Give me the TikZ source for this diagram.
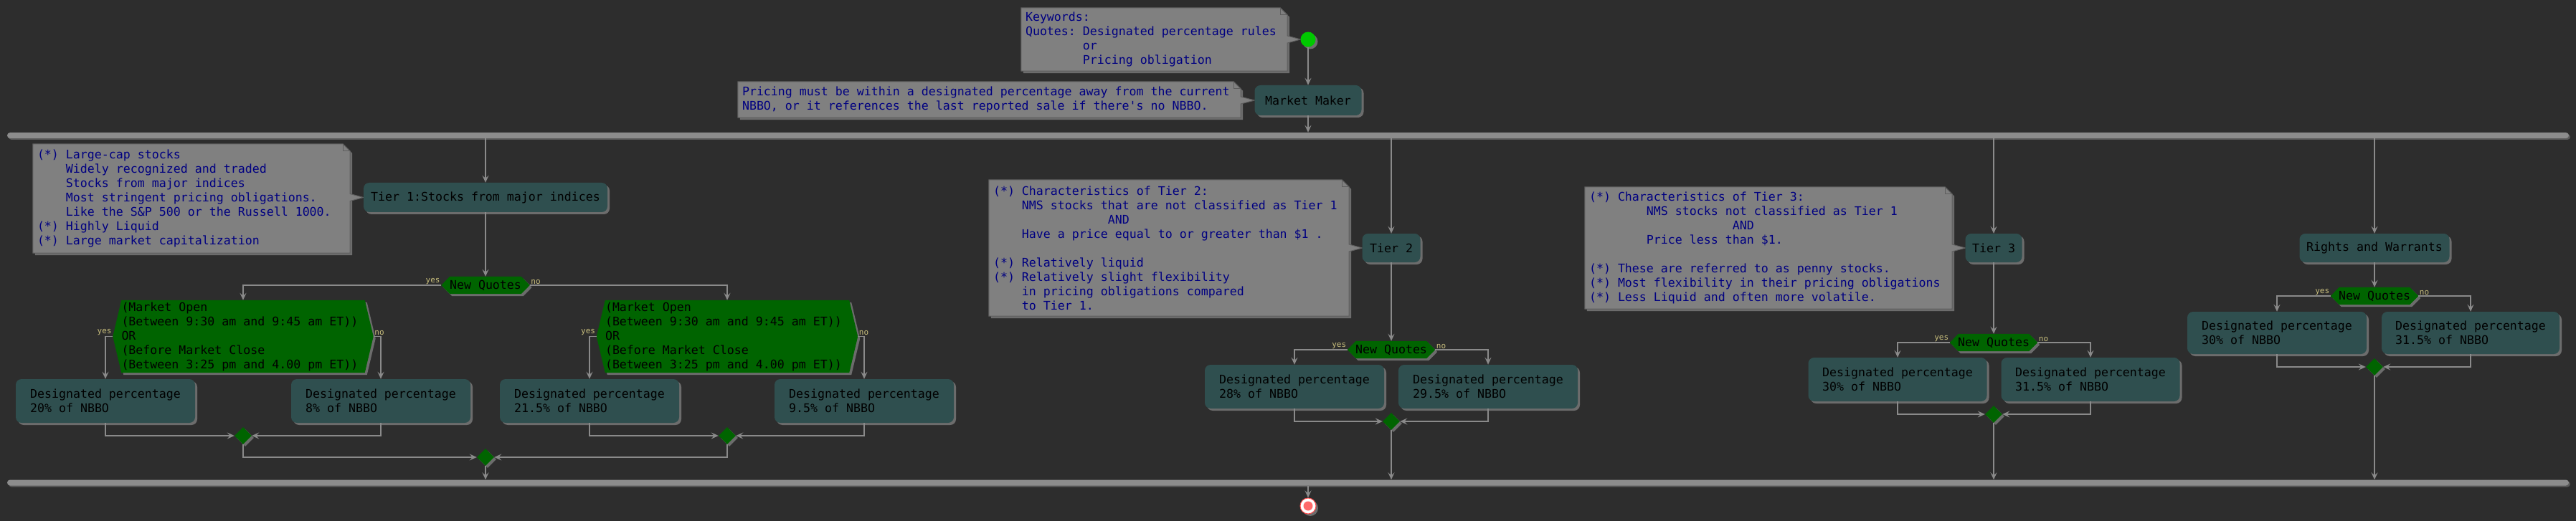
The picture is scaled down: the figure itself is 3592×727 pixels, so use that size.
\documentclass[tikz,border=0pt]{standalone}
\usepackage{fontspec}
\setmonofont{DejaVu Sans Mono}
\usetikzlibrary{arrows.meta,shapes.geometric,shadows,backgrounds,calc}
\setlength\parindent{0pt}
\definecolor{bgc}{HTML}{2D2D2D}
\definecolor{notefill}{HTML}{808080}
\definecolor{noteline}{HTML}{5E5E5E}
\definecolor{notetext}{HTML}{000080}
\definecolor{boxfill}{HTML}{2F4F4F}
\definecolor{hexfill}{HTML}{006400}
\definecolor{linec}{HTML}{8A8A8A}
\definecolor{barc}{HTML}{8C8C8C}
\definecolor{barsh}{HTML}{5A5A5A}
\definecolor{shc}{HTML}{A0A0A0}
\definecolor{lblc}{HTML}{C8BE7C}
\definecolor{startc}{HTML}{00C800}
\definecolor{endc}{HTML}{FF6A6A}
\definecolor{endline}{HTML}{FF4A4A}
\newcommand{\sk}[1]{\hspace*{#1\fontcharwd\font`0}}
\newcommand{\ms}{\spaceskip=0pt\relax\xspaceskip=0pt\relax\frenchspacing}
\newcommand{\hexdraw}[1]{%
  \begin{scope}[on background layer]
    \fill[shc,opacity=.55,transform canvas={xshift=3pt,yshift=-3pt}] (#1.west) -- ([xshift=12pt]#1.north west) -- ([xshift=-12pt]#1.north east) -- (#1.east) -- ([xshift=-12pt]#1.south east) -- ([xshift=12pt]#1.south west) -- cycle;
    \fill[hexfill] (#1.west) -- ([xshift=12pt]#1.north west) -- ([xshift=-12pt]#1.north east) -- (#1.east) -- ([xshift=-12pt]#1.south east) -- ([xshift=12pt]#1.south west) -- cycle;
  \end{scope}}
\newcommand{\notedraw}[2]{%
  \begin{scope}[on background layer]
    \coordinate (nA) at ([yshift=5pt]#2);
    \coordinate (nB) at ([yshift=-5pt]#2);
    \fill[shc,opacity=.55,transform canvas={xshift=3pt,yshift=-3pt}] (#1.north west) -- ([xshift=-10pt]#1.north east) -- ([yshift=-10pt]#1.north east) -- (#1.south east) -- (#1.south west) -- cycle;
    \filldraw[fill=notefill, draw=noteline, line width=1pt] (#1.north west) -- ([xshift=-10pt]#1.north east) -- ([yshift=-10pt]#1.north east) -- (#1.east |- nA) -- (#2) -- (#1.east |- nB) -- (#1.south east) -- (#1.south west) -- cycle;
    \draw[noteline, line width=1pt] ([xshift=-10pt]#1.north east) -- ([xshift=-10pt,yshift=-10pt]#1.north east) -- ([yshift=-10pt]#1.north east);
  \end{scope}}
\tikzset{
  base/.style={font=\ttfamily\fontsize{16.6}{20}\selectfont},
  shd/.style={drop shadow={shadow xshift=3pt, shadow yshift=-3pt, fill=shc, opacity=.55}},
  box/.style={base, shd, rounded corners=8pt, fill=boxfill, text=black, align=left, inner sep=0pt},
  notebox/.style={base, text=notetext, align=left, inner xsep=6pt, inner ysep=0pt},
  hexnode/.style={base, text=black, align=left, inner sep=0pt},
  dia/.style={diamond, shd, fill=hexfill, minimum width=24pt, minimum height=24pt, inner sep=0pt},
  conn/.style={draw=linec, line width=1.4pt},
  arr/.style={conn, -{Stealth[length=10pt,width=9pt,inset=4pt]}},
  lbl/.style={font=\ttfamily\fontsize{11}{12}\selectfont, text=lblc, inner sep=1.5pt},
  bar/.style={fill=barc, rounded corners=4pt, minimum width=3572pt, minimum height=8pt, inner sep=0pt,
    drop shadow={shadow xshift=2pt, shadow yshift=-2pt, fill=barsh, opacity=1}},
}
\begin{document}
\begin{tikzpicture}[x=1pt,y=-1pt]
\begin{scope}[on background layer]
  \fill[bgc] (0,0) rectangle (3592,727);
\end{scope}
\useasboundingbox (0,0) rectangle (3592,727);

% start / end
\node[circle, shd, fill=startc, minimum size=21pt, inner sep=0pt] (start) at (1824,55) {};
\node[circle, shd, fill=white, draw=endline, line width=1pt, minimum size=22pt, inner sep=0pt] (end) at (1824,706) {};
\fill[endc] (end) circle (6.5pt);

% bars
\node[bar] (bar1) at (1796,189) {};
\node[bar] (bar2) at (1796,673.5) {};

% top
\node[box, minimum width=149pt, minimum height=42pt] (mm) at (1824,140) {Market Maker};
\node[notebox, text width=359pt, minimum height=88pt] (kw) at (1609.5,55) {\ms Keywords:\\Quotes: Designated percentage rules\\\sk{8}or\\\sk{8}Pricing obligation};
\notedraw{kw}{start.west}
\node[notebox, text width=689pt, minimum height=50pt] (pr) at (1379.5,139) {\ms Pricing must be within a designated percentage away from the current\\NBBO, or it references the last reported sale if there's no NBBO.};
\notedraw{pr}{mm.west}

% tier 1
\node[box, minimum width=340pt, minimum height=41pt] (t1) at (677,275.5) {Tier 1:Stocks from major indices};
\node[notebox, text width=430pt, minimum height=152pt] (n1) at (267,277) {\ms (*) Large-cap stocks\\\sk{4}Widely recognized and traded\\\sk{4}Stocks from major indices\\\sk{4}Most stringent pricing obligations.\\\sk{4}Like the S\&P 500 or the Russell 1000.\\(*) Highly Liquid\\(*) Large market capitalization};
\notedraw{n1}{t1.west}
\node[hexnode, minimum width=123pt, minimum height=24pt] (nq1) at (677,398) {New Quotes};
\hexdraw{nq1}
\node[hexnode, text width=339pt, inner xsep=12pt, minimum height=101pt] (c1) at (339,469.5) {\ms (Market Open\\(Between 9:30 am and 9:45 am ET))\\OR\\(Before Market Close\\(Between 3:25 pm and 4.00 pm ET))};
\hexdraw{c1}
\node[hexnode, text width=340pt, inner xsep=12pt, minimum height=101pt] (c2) at (1014,469.5) {\ms (Market Open\\(Between 9:30 am and 9:45 am ET))\\OR\\(Before Market Close\\(Between 3:25 pm and 4.00 pm ET))};
\hexdraw{c2}
\node[box, minimum width=250pt, minimum height=61pt] (b20) at (147,559.5) {Designated percentage\\20\% of NBBO};
\node[box, minimum width=250pt, minimum height=61pt] (b8) at (531,559.5) {Designated percentage\\8\% of NBBO};
\node[box, minimum width=250pt, minimum height=61pt] (b215) at (822,559.5) {Designated percentage\\21.5\% of NBBO};
\node[box, minimum width=250pt, minimum height=61pt] (b95) at (1205,559.5) {Designated percentage\\9.5\% of NBBO};
\node[dia] (d1) at (339,608) {};
\node[dia] (d2) at (1014,608) {};
\node[dia] (d0) at (677,638) {};

% tier 2
\node[box, minimum width=81pt, minimum height=40pt] (t2) at (1940,346) {Tier 2};
\node[notebox, text width=490pt, minimum height=190pt] (n2) at (1630,346) {\ms (*) Characteristics of Tier 2:\\\sk{4}NMS stocks that are not classified as Tier 1\\\sk{16}AND\\\sk{4}Have a price equal to or greater than \$1 .\\\strut\\(*) Relatively liquid\\(*) Relatively slight flexibility\\\sk{4}in pricing obligations compared\\\sk{4}to Tier 1.};
\notedraw{n2}{t2.west}
\node[hexnode, minimum width=122pt, minimum height=24pt] (nq2) at (1940,488) {New Quotes};
\hexdraw{nq2}
\node[box, minimum width=250pt, minimum height=61pt] (b28) at (1805,539.5) {Designated percentage\\28\% of NBBO};
\node[box, minimum width=250pt, minimum height=61pt] (b295) at (2075,539.5) {Designated percentage\\29.5\% of NBBO};
\node[dia] (d3) at (1940,588) {};

% tier 3
\node[box, minimum width=79pt, minimum height=40pt] (t3) at (2780,346) {Tier 3};
\node[notebox, text width=500pt, minimum height=170pt] (n3) at (2466,346) {\ms (*) Characteristics of Tier 3:\\\sk{8}NMS stocks not classified as Tier 1\\\sk{20}AND\\\sk{8}Price less than \$1.\\\strut\\(*) These are referred to as penny stocks.\\(*) Most flexibility in their pricing obligations\\(*) Less Liquid and often more volatile.};
\notedraw{n3}{t3.west}
\node[hexnode, minimum width=122pt, minimum height=24pt] (nq3) at (2780,478) {New Quotes};
\hexdraw{nq3}
\node[box, minimum width=249pt, minimum height=61pt] (b30a) at (2646,529.5) {Designated percentage\\30\% of NBBO};
\node[box, minimum width=249pt, minimum height=61pt] (b315a) at (2915,529.5) {Designated percentage\\31.5\% of NBBO};
\node[dia] (d4) at (2780,578) {};

% rights
\node[box, minimum width=209pt, minimum height=40pt] (rw) at (3311,346) {Rights and Warrants};
\node[hexnode, minimum width=122pt, minimum height=24pt] (nq4) at (3311,413) {New Quotes};
\hexdraw{nq4}
\node[box, minimum width=250pt, minimum height=59pt] (b30b) at (3175,464.5) {Designated percentage\\30\% of NBBO};
\node[box, minimum width=248pt, minimum height=59pt] (b315b) at (3445,464.5) {Designated percentage\\31.5\% of NBBO};
\node[dia] (d5) at (3311,512) {};

% labels
\foreach \h in {nq1,c1,c2,nq2,nq3,nq4}{
  \node[lbl, anchor=south east] at (\h.west) {yes};
  \node[lbl, anchor=south west] at (\h.east) {no};
}

% connectors
\draw[arr] (start) -- (mm);
\draw[arr] (mm.south) -- (mm.south |- bar1.north);
\draw[arr] (t1.north |- bar1.south) -- (t1.north);
\draw[arr] (t2.north |- bar1.south) -- (t2.north);
\draw[arr] (t3.north |- bar1.south) -- (t3.north);
\draw[arr] (rw.north |- bar1.south) -- (rw.north);

\draw[arr] (t1.south) -- (nq1.north);
\draw[arr] (nq1.west) -| (c1.north);
\draw[arr] (nq1.east) -| (c2.north);
\draw[arr] (c1.west) -| (b20.north);
\draw[arr] (c1.east) -| (b8.north);
\draw[arr] (c2.west) -| (b215.north);
\draw[arr] (c2.east) -| (b95.north);
\draw[arr] (b20.south) |- (d1.west);
\draw[arr] (b8.south) |- (d1.east);
\draw[arr] (b215.south) |- (d2.west);
\draw[arr] (b95.south) |- (d2.east);
\draw[arr] (d1.south) |- (d0.west);
\draw[arr] (d2.south) |- (d0.east);
\draw[arr] (d0.south) -- (d0.south |- bar2.north);

\draw[arr] (t2.south) -- (nq2.north);
\draw[arr] (nq2.west) -| (b28.north);
\draw[arr] (nq2.east) -| (b295.north);
\draw[arr] (b28.south) |- (d3.west);
\draw[arr] (b295.south) |- (d3.east);
\draw[arr] (d3.south) -- (d3.south |- bar2.north);

\draw[arr] (t3.south) -- (nq3.north);
\draw[arr] (nq3.west) -| (b30a.north);
\draw[arr] (nq3.east) -| (b315a.north);
\draw[arr] (b30a.south) |- (d4.west);
\draw[arr] (b315a.south) |- (d4.east);
\draw[arr] (d4.south) -- (d4.south |- bar2.north);

\draw[arr] (rw.south) -- (nq4.north);
\draw[arr] (nq4.west) -| (b30b.north);
\draw[arr] (nq4.east) -| (b315b.north);
\draw[arr] (b30b.south) |- (d5.west);
\draw[arr] (b315b.south) |- (d5.east);
\draw[arr] (d5.south) -- (d5.south |- bar2.north);

\draw[arr] (end.north |- bar2.south) -- (end.north);
\end{tikzpicture}
\end{document}
